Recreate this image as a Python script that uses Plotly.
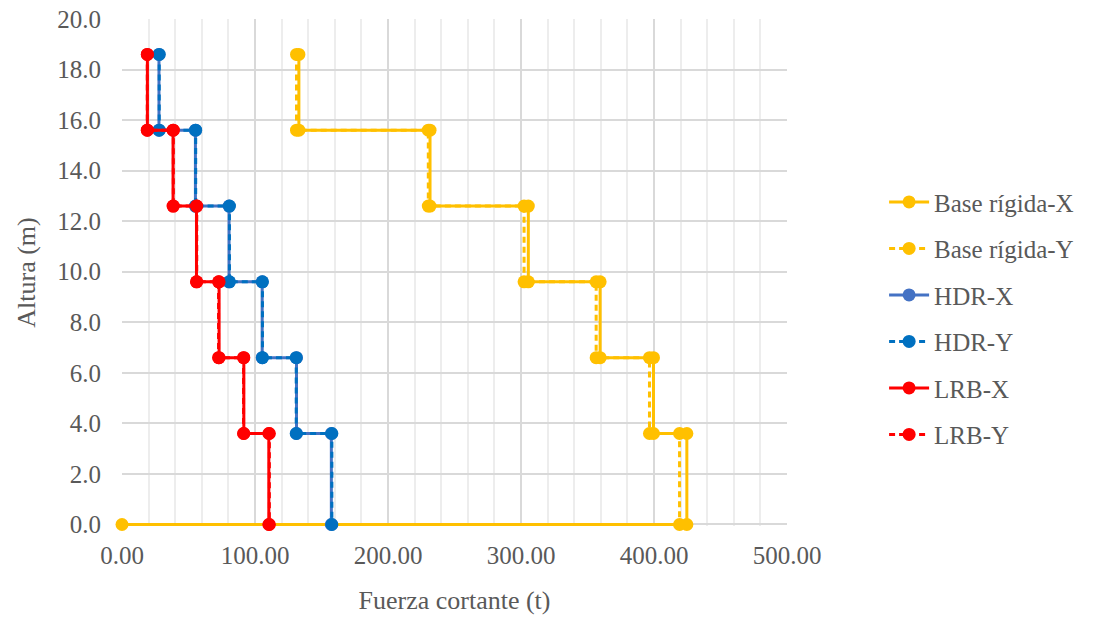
import plotly.graph_objects as go

# Floor levels (m), from roof down to the base
levels = [18.6, 15.6, 12.6, 9.6, 6.6, 3.6, 0.0]

# Storey shear (t) for each storey, roof storey first
base_x = [133.0, 231.6, 305.5, 359.5, 399.6, 424.7]
base_y = [131.2, 230.3, 302.3, 356.5, 396.6, 419.2]
hdr_x = [27.8, 55.2, 80.5, 105.4, 131.2, 157.4]
hdr_y = [28.0, 55.4, 80.8, 105.6, 131.0, 157.8]
lrb_x = [19.1, 38.4, 56.0, 73.0, 91.6, 110.4]
lrb_y = [19.0, 38.6, 56.2, 72.6, 91.4, 110.8]

x_ticks = [0, 100, 200, 300, 400, 500]
y_ticks = [0, 2, 4, 6, 8, 10, 12, 14, 16, 18, 20]

YELLOW = "#FFC000"
BLUE_X = "#4472C4"
BLUE_Y = "#0070C0"
RED = "#FF0000"
TEXT = "#595959"
FONT = "Liberation Serif, Times New Roman, serif"


def stair(shears, tail_to_origin=False):
    """Turn storey shears into a stepped profile over the floor levels."""
    xs, ys = [], []
    for i, v in enumerate(shears):
        xs += [v, v]
        ys += [levels[i], levels[i + 1]]
    if tail_to_origin:
        xs.append(0.0)
        ys.append(levels[-1])
    return xs, ys


series = [
    ("Base rígida-X", base_x, YELLOW, "solid", True),
    ("Base rígida-Y", base_y, YELLOW, "6px,4px", False),
    ("HDR-X", hdr_x, BLUE_X, "solid", False),
    ("HDR-Y", hdr_y, BLUE_Y, "6px,4px", False),
    ("LRB-X", lrb_x, RED, "solid", False),
    ("LRB-Y", lrb_y, RED, "6px,4px", False),
]

fig = go.Figure()
for i, (name, vals, color, dash, tail) in enumerate(series):
    xs, ys = stair(vals, tail)
    fig.add_trace(go.Scatter(
        x=xs, y=ys, name=name, mode="lines+markers",
        line=dict(color=color, width=3, dash=dash),
        marker=dict(color=color, size=13),
        legendgroup=f"g{i}", cliponaxis=False,
    ))

# a tiny bit of room under the base so the ground-level line is not cut in half
fig.update_layout(
    width=1102, height=618,
    margin=dict(l=122, r=315, t=19, b=92),
    paper_bgcolor="white", plot_bgcolor="white",
    font=dict(family=FONT, size=26, color=TEXT),
    showlegend=True,
    legend=dict(
        x=1.146, xanchor="left", y=0.41, yanchor="middle",
        font=dict(family=FONT, size=25, color=TEXT),
        tracegroupgap=11, traceorder="grouped",
        bgcolor="rgba(0,0,0,0)", itemwidth=40,
    ),
    xaxis=dict(
        range=[0, 500], tickvals=x_ticks,
        ticktext=[f"{v:.2f}" for v in x_ticks],
        showgrid=True, gridcolor="#D9D9D9", gridwidth=2,
        minor=dict(dtick=20, showgrid=True, gridcolor="#EDEDED", gridwidth=2),
        zeroline=False, showline=False, ticks="",
        ticklabelstandoff=12, automargin=False,
        title=dict(text="Fuerza cortante (t)", font=dict(size=26, color=TEXT), standoff=22),
        tickfont=dict(size=25, color=TEXT),
    ),
    yaxis=dict(
        range=[-0.06, 20], tickvals=y_ticks,
        ticktext=[f"{v:.1f}" for v in y_ticks],
        showgrid=True, gridcolor="#D9D9D9", gridwidth=2,
        zeroline=False, showline=False, ticks="",
        ticklabelstandoff=20, automargin=False,
        title=dict(text="Altura (m)", font=dict(size=26, color=TEXT), standoff=14),
        tickfont=dict(size=25, color=TEXT),
    ),
)

fig.write_html("out.html")
